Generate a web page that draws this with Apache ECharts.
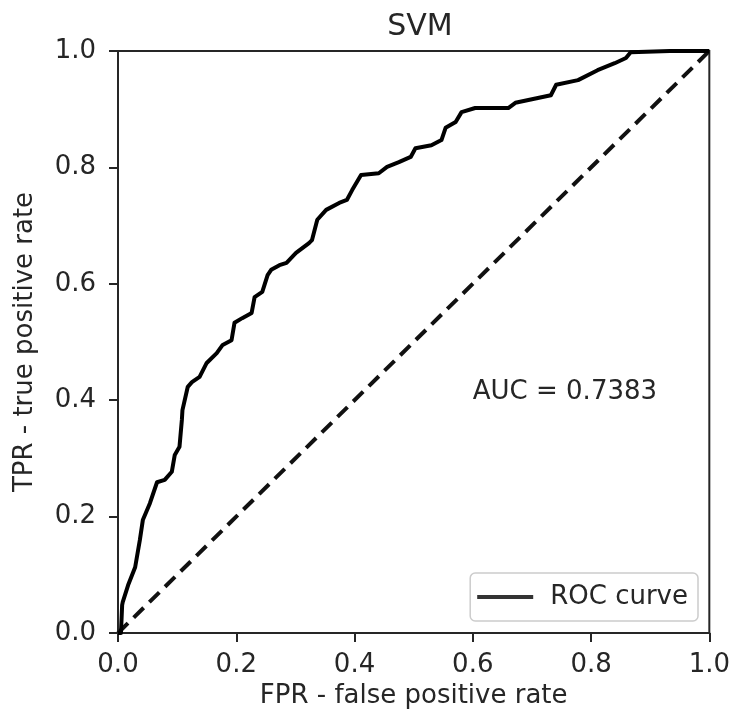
<!DOCTYPE html>
<html>
<head>
<meta charset="utf-8">
<script src="https://cdn.jsdelivr.net/npm/echarts@6/dist/echarts.min.js"></script>
<style>
html,body{margin:0;padding:0;background:#fff;}
#chart{width:733px;height:720px;}
</style>
</head>
<body>
<div id="chart"></div>
<script>
var titleText = "SVM";
var xName = "FPR - false positive rate";
var yName = "TPR - true positive rate";
var seriesName = "ROC curve";
var aucText = "AUC = 0.7383";
var aucPos = [0.6, 0.4];

var fpr = [0, 0.005, 0.007, 0.008, 0.017, 0.029, 0.037, 0.042, 0.054, 0.066, 0.079, 0.091, 0.096, 0.104, 0.108, 0.109, 0.118, 0.125, 0.138, 0.150, 0.167, 0.177, 0.192, 0.197, 0.210, 0.226, 0.231, 0.244, 0.253, 0.259, 0.273, 0.285, 0.301, 0.323, 0.328, 0.337, 0.352, 0.374, 0.387, 0.396, 0.411, 0.441, 0.455, 0.475, 0.495, 0.503, 0.530, 0.547, 0.554, 0.571, 0.581, 0.604, 0.660, 0.672, 0.732, 0.741, 0.778, 0.811, 0.840, 0.859, 0.867, 0.933, 1.0];
var tpr = [0, 0, 0.048, 0.053, 0.082, 0.113, 0.160, 0.194, 0.223, 0.259, 0.263, 0.277, 0.306, 0.320, 0.366, 0.383, 0.423, 0.431, 0.440, 0.464, 0.481, 0.495, 0.503, 0.533, 0.541, 0.550, 0.577, 0.586, 0.615, 0.624, 0.632, 0.636, 0.653, 0.670, 0.675, 0.710, 0.727, 0.739, 0.744, 0.761, 0.787, 0.790, 0.801, 0.809, 0.818, 0.833, 0.838, 0.847, 0.868, 0.878, 0.895, 0.902, 0.902, 0.911, 0.924, 0.942, 0.950, 0.967, 0.979, 0.988, 0.998, 1.0, 1.0];
var diagX = [0, 1];
var diagY = [0, 1];
var tickValues = [0, 0.2, 0.4, 0.6, 0.8, 1.0];

var rocData = fpr.map(function (v, i) { return [v, tpr[i]]; });
var diagData = diagX.map(function (v, i) { return [v, diagY[i]]; });

var FONT = "DejaVu Sans";
var TXT = "#262626";

var chart = echarts.init(document.getElementById('chart'), null, {renderer: 'canvas'});
var axisCommon = {
  type: 'value', min: tickValues[0], max: tickValues[tickValues.length - 1], interval: tickValues[1] - tickValues[0],
  axisLine: {show: true, lineStyle: {color: '#262626', width: 2}},
  axisTick: {show: true, length: 9, lineStyle: {color: '#262626', width: 2}},
  splitLine: {show: false},
  axisLabel: {color: TXT, fontFamily: FONT, fontSize: 26, formatter: function (v) { return v.toFixed(1); }},
  nameLocation: 'middle',
  nameTextStyle: {color: TXT, fontFamily: FONT, fontSize: 26}
};
chart.setOption({
  animation: false,
  backgroundColor: '#fff',
  title: {text: titleText, left: 415, textAlign: 'center', top: 7,
    textStyle: {color: TXT, fontFamily: FONT, fontSize: 30, fontWeight: 'normal'}},
  grid: {left: 118, right: 21, top: 51, bottom: 87, show: true, borderColor: '#262626', borderWidth: 2, backgroundColor: 'transparent'},
  legend: {
    data: [seriesName], right: 35, bottom: 99, orient: 'vertical',
    icon: 'rect', itemWidth: 56, itemHeight: 4, itemGap: 0,
    padding: [11, 10, 11, 7],
    borderColor: '#cccccc', borderWidth: 1.5, borderRadius: 5, backgroundColor: '#fff',
    textStyle: {color: TXT, fontFamily: FONT, fontSize: 26, padding: [0, 0, 0, 12]},
    itemStyle: {color: '#333'}
  },
  xAxis: Object.assign({}, axisCommon, {name: xName, nameGap: 50,
    axisLabel: Object.assign({}, axisCommon.axisLabel, {margin: 19})}),
  yAxis: Object.assign({}, axisCommon, {name: yName, nameGap: 80,
    axisLabel: Object.assign({}, axisCommon.axisLabel, {margin: 22})}),
  series: [
    {name: seriesName, type: 'line', data: rocData, showSymbol: false, symbol: 'none',
      lineStyle: {color: '#000', width: 4, join: 'round'}, itemStyle: {color: '#333'}, z: 3},
    {name: 'diag', type: 'line', data: diagData, showSymbol: false, symbol: 'none',
      lineStyle: {color: '#111', width: 4, type: [14, 8]}, z: 2}
  ]
});
var p = chart.convertToPixel({gridIndex: 0}, aucPos);
chart.setOption({
  graphic: [{type: 'text', x: p[0], y: p[1] + 5, z: 10,
    style: {text: aucText, fill: TXT, font: '26px "DejaVu Sans"', align: 'left', verticalAlign: 'bottom'}}]
});
</script>
</body>
</html>
